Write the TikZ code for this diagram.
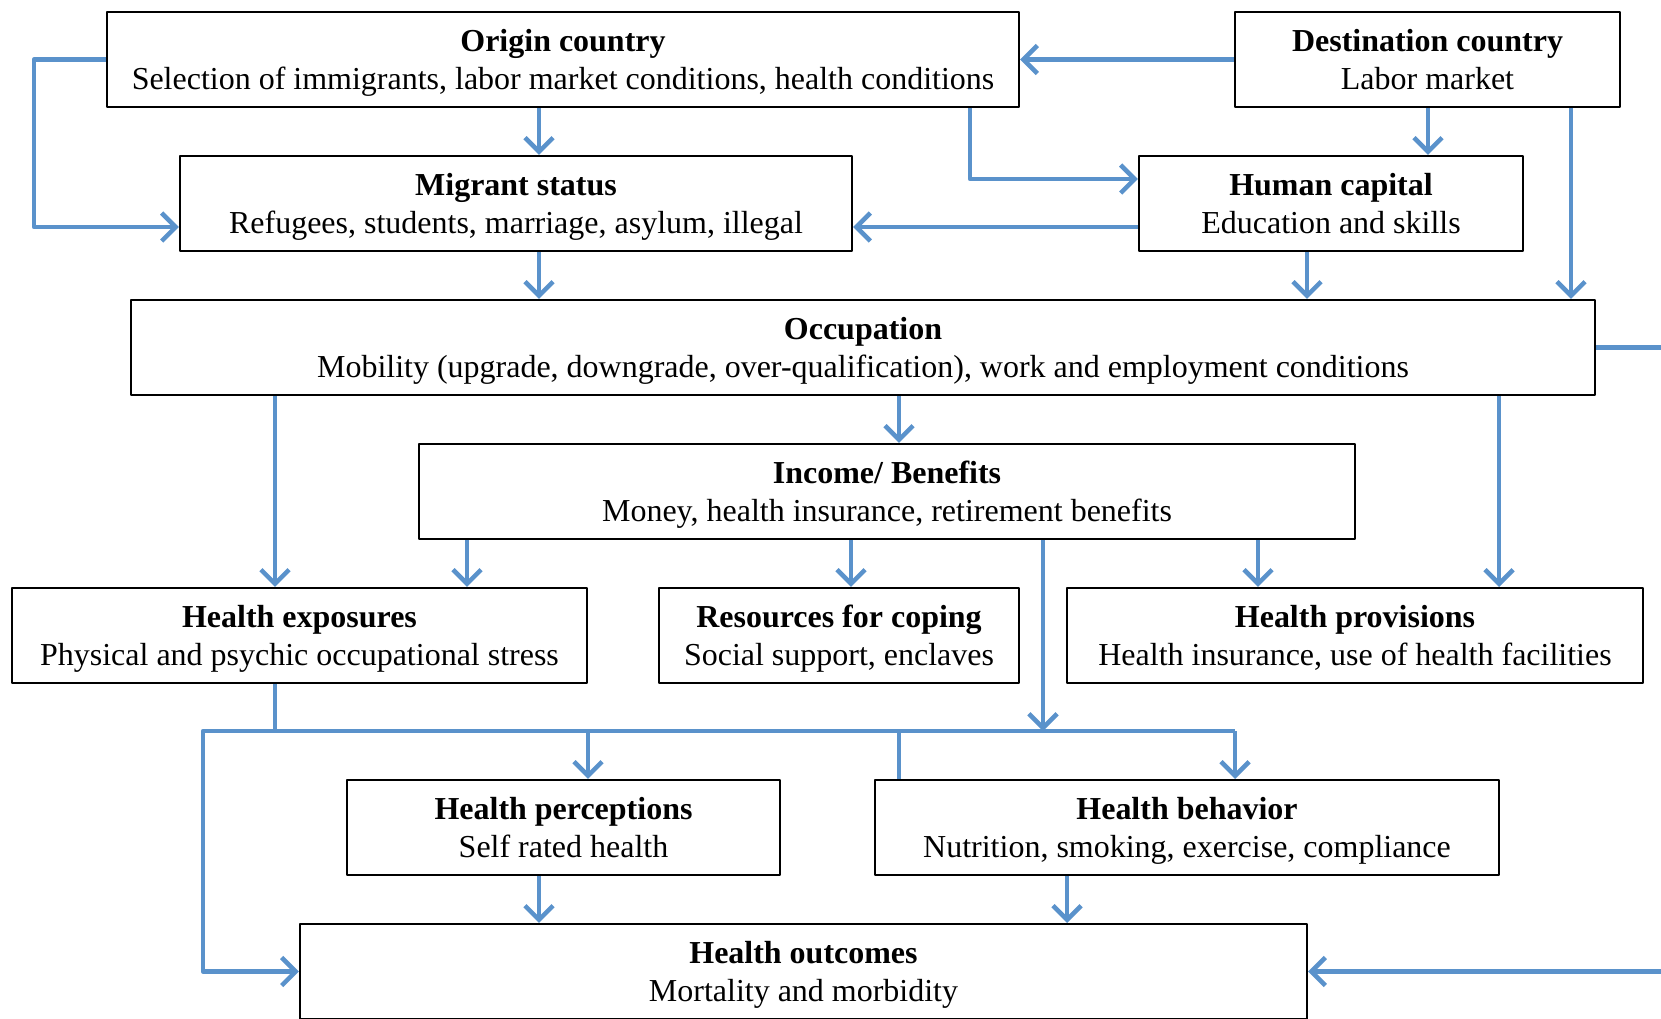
\documentclass[tikz,border=0pt]{standalone}
\usepackage{fontspec}
\setmainfont{Liberation Serif}
\usetikzlibrary{arrows.meta}
\definecolor{linkblue}{RGB}{90,146,203}
\newcommand{\boxtext}[2]{\rule{0pt}{9.5pt}{\bfseries #1}\\#2\strut}
\begin{document}
\begin{tikzpicture}[line join=round, >={Straight Barb[length=4pt,width=8pt]}]
			\tikzset{
				box/.style={draw=black, line width=0.6pt, minimum height=0.95cm, inner sep=0pt, align=center, font=\fontsize{9.1}{11}\selectfont},
				link/.style={draw=linkblue, line width=1.3pt},
				arr/.style={link,->}
			}
			\def \xmin{0}
			\def \xmax{16.61}
			\def \ymin{-10.18}
			\def \ymax{0}
			\useasboundingbox (\xmin,\ymin) rectangle (\xmax,\ymax);
			\clip (\xmin,\ymin) rectangle (\xmax,\ymax);
			
			% boxes
			\node[box, minimum width=9.12cm] (origin) at (5.63,-0.595) {\boxtext{Origin country}{Selection of immigrants, labor market conditions, health conditions}};
			\node[box, minimum width=3.85cm] (dest) at (14.275,-0.595) {\boxtext{Destination country}{Labor market}};
			\node[box, minimum width=6.72cm] (migrant) at (5.16,-2.035) {\boxtext{Migrant status}{Refugees, students, marriage, asylum, illegal}};
			\node[box, minimum width=3.84cm] (human) at (13.31,-2.035) {\boxtext{Human capital}{Education and skills}};
			\node[box, minimum width=14.64cm] (occup) at (8.63,-3.475) {\boxtext{Occupation}{Mobility (upgrade, downgrade, over-qualification), work and employment conditions}};
			\node[box, minimum width=9.36cm] (income) at (8.87,-4.915) {\boxtext{Income/ Benefits}{Money, health insurance, retirement benefits}};
			\node[box, minimum width=5.75cm] (expo) at (2.995,-6.355) {\boxtext{Health exposures}{Physical and psychic occupational stress}};
			\node[box, minimum width=3.60cm] (coping) at (8.39,-6.355) {\boxtext{Resources for coping}{Social support, enclaves}};
			\node[box, minimum width=5.76cm] (provis) at (13.55,-6.355) {\boxtext{Health provisions}{Health insurance, use of health facilities}};
			\node[box, minimum width=4.33cm] (percep) at (5.635,-8.275) {\boxtext{Health perceptions}{Self rated health}};
			\node[box, minimum width=6.24cm] (behav) at (11.87,-8.275) {\boxtext{Health behavior}{Nutrition, smoking, exercise, compliance}};
			\node[box, minimum width=10.07cm] (outcome) at (8.035,-9.715) {\boxtext{Health outcomes}{Mortality and morbidity}};
			
			\path 
			(2.03,-7.31) coordinate (BL)
			(12.35,-7.31) coordinate (BR)
			;
			
			% straight downward links
			\foreach \x/\a/\b in {5.39/origin/migrant, 14.28/dest/human, 15.71/dest/occup, 5.39/migrant/occup, 13.07/human/occup, 2.75/occup/expo, 8.99/occup/income, 14.99/occup/provis, 4.67/income/expo, 8.51/income/coping, 12.58/income/provis, 5.39/percep/outcome, 10.67/behav/outcome}
				\draw[arr] (\x,0 |- \a.south) -- (\x,0 |- \b.north);
			
			% upper part
			\draw[arr] (origin.west) -- ++(-0.72,0) |- ([yshift=-0.235cm]migrant.west);
			\draw[arr] (dest.west) -- (origin.east);
			\draw[arr] (9.70,0 |- origin.south) |- ([yshift=0.245cm]human.west);
			\draw[arr] ([yshift=-0.235cm]human.west) -- ([yshift=-0.235cm]migrant.east);
			\draw[arr] (occup.east) -- ++(1.5,0) |- (outcome.east);
			
			% lower bus
			\draw[link] (2.75,0 |- expo.south) -- (2.75,0 |- BL);
			\draw[arr] (10.43,0 |- income.south) -- (10.43,0 |- BL);
			\draw[arr] (BR) -- (BL) |- (outcome.west);
			\draw[arr] (BR) -- (BR |- behav.north);
			\draw[arr] (5.88,0 |- BL) -- (5.88,0 |- percep.north);
			\draw[link] (8.99,0 |- BL) -- (8.99,0 |- behav.north);
		\end{tikzpicture}
\end{document}
